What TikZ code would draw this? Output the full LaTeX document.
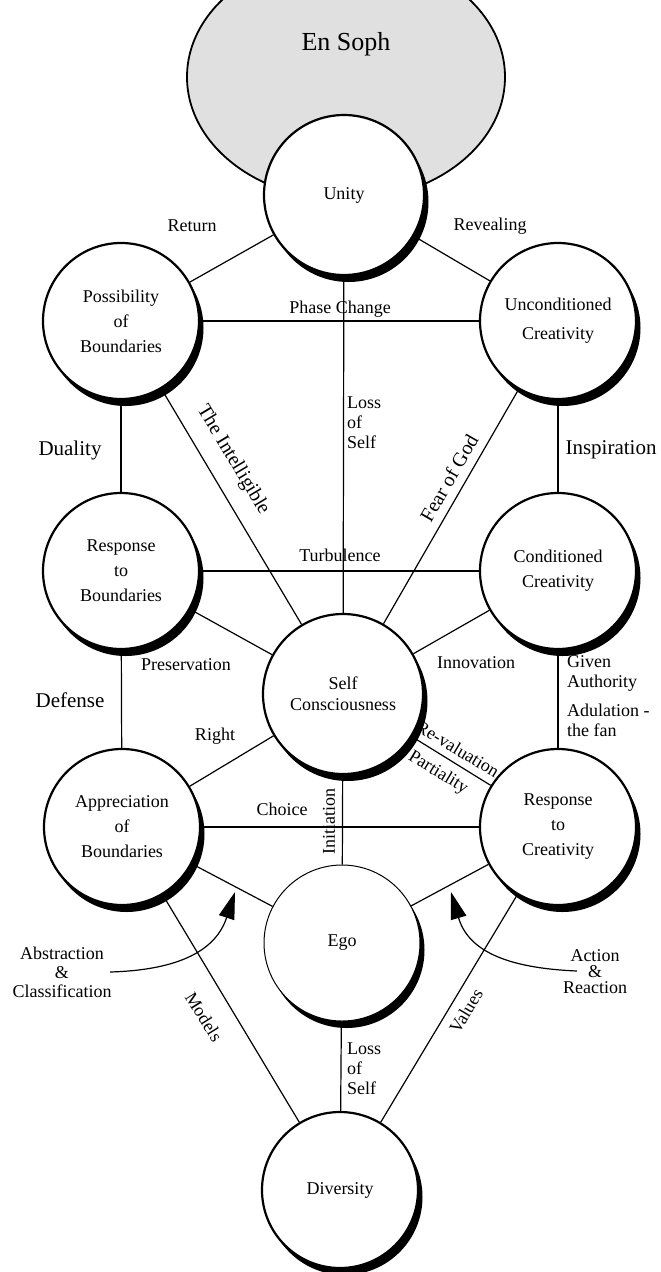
\documentclass[tikz,border=0pt]{standalone}
\usepackage{fontspec}
\setmainfont{Liberation Serif}
\usetikzlibrary{arrows.meta, shapes.geometric, shadows}

\begin{document}
\begin{tikzpicture}[x=1pt, y=-1pt, line join=round]
            % Define styles
            \tikzset{sefira/.style={draw, circle, line width=2.2pt, fill=white, minimum size=156pt, inner sep=0pt, align=center,
                font=\fontsize{18}{25}\selectfont,
                drop shadow={shadow xshift=4.5pt, shadow yshift=-7pt, fill=black, opacity=1}}}
            \tikzset{link/.style={line width=1.2pt}}
            \tikzset{lbl/.style={font=\fontsize{18}{20}\selectfont, inner sep=0pt, align=center}}
            \tikzset{biglbl/.style={font=\fontsize{21}{24}\selectfont, inner sep=0pt}}
            \tikzset{tilted/.style={font=\fontsize{20}{22}\selectfont, inner sep=0pt}}

            \useasboundingbox (0,0) rectangle (661,1272);
            \clip (0,0) rectangle (661,1272);

            % En Soph
            \node[ellipse, draw, line width=1.8pt, fill=black!12, minimum width=318pt, minimum height=246pt] (ensoph) at (346,77) {};
            \node[font=\fontsize{26}{30}\selectfont, inner sep=0pt] (ensophtext) at (346,44) {En Soph};

            % Nodes
            \node[sefira, minimum size=160pt] (unity) at (344,195) {Unity};
            \node[sefira] (poss) at (121,321) {Possibility\\of\\Boundaries};
            \node[sefira] (uncond) at (558,321) {Unconditioned\\[4pt]Creativity};
            \node[sefira] (respb) at (121,571) {Response\\to\\Boundaries};
            \node[sefira] (condc) at (558,571) {Conditioned\\Creativity};
            \node[sefira, minimum size=160pt, font=\fontsize{18}{21}\selectfont] (selfc) at (343,694) {Self\\Consciousness};
            \node[sefira] (appb) at (122,827) {Appreciation\\of\\Boundaries};
            \node[sefira] (respc) at (558,827) {Response\\to\\Creativity};
            \node[sefira, line width=1pt] (ego) at (342,943) {Ego};
            \node[sefira] (diver) at (340,1190) {Diversity};

            % Paths
            \draw[link] (unity) -- (poss);
            \draw[link] (unity) -- (uncond);
            \draw[link] (poss) -- (uncond);
            \draw[link] (unity) -- (selfc);
            \draw[link] (poss) -- (respb);
            \draw[link] (uncond) -- (condc);
            \draw[link] (poss) -- (selfc);
            \draw[link] (uncond) -- (selfc);
            \draw[link] (respb) -- (condc);
            \draw[link] (respb) -- (selfc);
            \draw[link] (condc) -- (selfc);
            \draw[link] (respb) -- (appb);
            \draw[link] (condc) -- (respc);
            \draw[link] (selfc) -- (appb);
            \draw[link] (selfc) -- (respc);
            \draw[link] (appb) -- (respc);
            \draw[link] (selfc) -- (ego);
            \draw[link] (appb) -- (ego);
            \draw[link] (respc) -- (ego);
            \draw[link] (appb) -- (diver);
            \draw[link] (respc) -- (diver);
            \draw[link] (ego) -- (diver);

            % Labels
            \node[lbl] (lreturn) at (192,226) {Return};
            \node[lbl] (lreveal) at (490,226) {Revealing};
            \node[lbl] (lphase) at (340,309) {Phase Change};
            \node[lbl, align=left, anchor=west] (llossup) at (347,423) {Loss\\of\\Self};
            \node[biglbl] (lduality) at (70,450) {Duality};
            \node[biglbl] (linspire) at (611,450) {Inspiration};
            \node[tilted, rotate=-59] (lintell) at (233,460) {The Intelligible};
            \node[tilted, rotate=60] (lfear) at (449,478) {Fear of God};
            \node[lbl] (lturb) at (340,555) {Turbulence};
            \node[lbl] (lpreserve) at (186,665) {Preservation};
            \node[lbl] (linnov) at (476,663) {Innovation};
            \node[lbl, align=left, anchor=west] (lgiven) at (567,673) {Given\\Authority};
            \node[lbl, align=left, anchor=west] (ladulate) at (567,720) {Adulation -\\the fan};
            \node[biglbl] (ldefense) at (70,700) {Defense};
            \node[lbl] (lright) at (215,736) {Right};
            \node[lbl, rotate=-31] (lrevalue) at (458,749) {Re-valuation};
            \node[lbl, rotate=-31] (lpartial) at (438,773) {Partiality};
            \node[lbl] (lchoice) at (282,809) {Choice};
            \node[lbl, rotate=90] (linit) at (329,821) {Initiation};
            \node[lbl, font=\fontsize{18}{19}\selectfont] (labstract) at (62,972) {Abstraction\\\&\\Classification};
            \node[lbl, font=\fontsize{18}{16}\selectfont] (laction) at (595,972) {Action\\\&\\Reaction};
            \node[lbl, rotate=-58] (lmodels) at (204,1017) {Models};
            \node[lbl, rotate=59] (lvalues) at (466,1011) {Values};
            \node[lbl, align=left, anchor=west] (llossdown) at (347,1069) {Loss\\of\\Self};

            % Arrows
            \coordinate (abstail) at (110,972);
            \coordinate (abstip) at (235,892);
            \coordinate (acttail) at (577,971);
            \coordinate (acttip) at (451,892);
            \draw[link, -{Triangle[length=27pt, width=16pt]}] (abstail) .. controls (180,970) and (216,950) .. (abstip);
            \draw[link, -{Triangle[length=27pt, width=16pt]}] (acttail) .. controls (505,968) and (468,950) .. (acttip);
\end{tikzpicture}
\end{document}
